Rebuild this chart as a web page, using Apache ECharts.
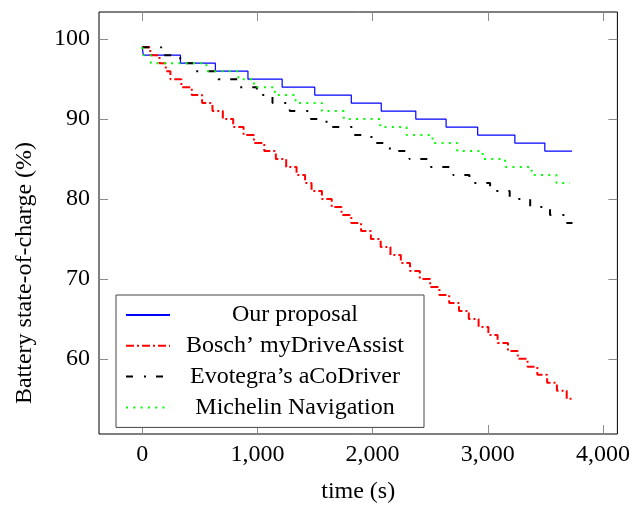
<!DOCTYPE html>
<html><head><meta charset="utf-8">
<script src="https://cdn.jsdelivr.net/npm/echarts@6/dist/echarts.min.js"></script>
<style>html,body{margin:0;padding:0;background:#fff}#c{width:633px;height:509px}</style>
</head><body><div id="c"></div>
<script>
const seriesNames = ['Our proposal', 'Bosch\u2019 myDriveAssist', 'Evotegra\u2019s aCoDriver', 'Michelin Navigation'];
const xTicks = [0, 1000, 2000, 3000, 4000];
const yTicks = [60, 70, 80, 90, 100];

const proposalTime = [0, 10, 332, 635, 918, 1215, 1498, 1815, 2075, 2375, 2638, 2912, 3235, 3495, 3732];
const proposalSoc  = [99, 98, 97, 96, 95, 94, 93, 92, 91, 90, 89, 88, 87, 86, 86];

const boschTime = [0, 70, 150, 205, 245, 340, 430, 520, 610, 700, 790, 880, 970, 1060, 1160, 1250, 1340, 1414, 1470, 1560,
  1645, 1730, 1815, 1900, 1985, 2070, 2155, 2245, 2325, 2410, 2500, 2580, 2665, 2750, 2835, 2920, 3005, 3085, 3175, 3260,
  3345, 3430, 3515, 3600, 3685, 3730];
const boschSoc = [99, 98, 97, 96, 95, 94, 93, 92, 91, 90, 89, 88, 87, 86, 85, 84, 83, 82, 81, 80,
  79, 78, 77, 76, 75, 74, 73, 72, 71, 70, 69, 68, 67, 66, 65, 64, 63, 62, 61, 60,
  59, 58, 57, 56, 55, 55];

const evoTime = [0, 165, 330, 460, 660, 840, 995, 1131, 1281, 1450, 1600, 1830, 1990, 2150, 2320, 2500, 2700, 2840, 3020, 3190, 3368, 3540, 3680, 3735];
const evoSoc  = [99, 98, 97, 96, 95, 94, 93, 92, 91, 90, 89, 88, 87, 86, 85, 84, 83, 82, 81, 80, 79, 78, 77, 77];

const michelinTime = [0, 10, 75, 557, 835, 970, 1152, 1331, 1560, 1750, 2066, 2295, 2520, 2735, 2955, 3150, 3380, 3596, 3712];
const michelinSoc  = [99, 98, 97, 96, 95, 94, 93, 92, 91, 90, 89, 88, 87, 86, 85, 84, 83, 82, 82];

const FONT = '"Liberation Serif", "DejaVu Serif", serif';
const FS = 24;
const pair = (ts, vs) => ts.map((t, i) => [t, vs[i]]);
const fmt = v => v.toLocaleString('en-US');

const chart = echarts.init(document.getElementById('c'), null, {renderer: 'canvas'});
const tick = vals => ({customValues: vals, inside: true, length: 9, lineStyle: {color: '#8c8c8c', width: 1}});
const noLine = {show: false, onZero: false};

chart.setOption({
  animation: false,
  backgroundColor: '#fff',
  grid: {left: 99, right: 15, top: 12, bottom: 66, show: true, borderColor: '#000', borderWidth: 1, backgroundColor: 'transparent'},
  xAxis: [
    {type: 'value', min: -375, max: 4125, position: 'bottom',
     axisLine: noLine, splitLine: {show: false},
     axisTick: tick(xTicks),
     axisLabel: {customValues: xTicks, formatter: fmt, color: '#000', fontSize: FS, fontFamily: FONT, margin: 9},
     name: 'time (s)', nameLocation: 'middle', nameGap: 46,
     nameTextStyle: {color: '#000', fontSize: FS, fontFamily: FONT}},
    {type: 'value', min: -375, max: 4125, position: 'top',
     axisLine: noLine, splitLine: {show: false},
     axisTick: tick(xTicks),
     axisLabel: {show: false}}
  ],
  yAxis: [
    {type: 'value', min: 50.6, max: 103.4, position: 'left',
     axisLine: noLine, splitLine: {show: false},
     axisTick: tick(yTicks),
     axisLabel: {customValues: yTicks, color: '#000', fontSize: FS, fontFamily: FONT, margin: 9},
     name: 'Battery state-of-charge (%)', nameLocation: 'middle', nameGap: 62, nameRotate: 90,
     nameTextStyle: {color: '#000', fontSize: FS, fontFamily: FONT, padding: [0, 100, 0, 0]}},
    {type: 'value', min: 50.6, max: 103.4, position: 'right',
     axisLine: noLine, splitLine: {show: false},
     axisTick: tick(yTicks),
     axisLabel: {show: false}}
  ],
  legend: {
    orient: 'vertical', left: 116, top: 295,
    padding: [8, 9, 8, 9], itemGap: 6.8, itemWidth: 44, itemHeight: 14,
    backgroundColor: '#fff', borderColor: '#444', borderWidth: 1, borderRadius: 0,
    itemStyle: {opacity: 0},
    data: seriesNames,
    formatter: name => '{a|' + name + '}',
    textStyle: {color: '#000', fontFamily: FONT, fontSize: FS,
      rich: {a: {width: 240, align: 'center', fontSize: FS, lineHeight: 24, fontFamily: FONT, color: '#000'}}}
  },
  series: [
    {type: 'line', name: seriesNames[0], data: pair(proposalTime, proposalSoc), step: 'end', symbol: 'none',
     lineStyle: {color: '#0000ff', width: 1.2, type: 'solid'}, itemStyle: {color: '#0000ff'}},
    {type: 'line', name: seriesNames[1], data: pair(boschTime, boschSoc), step: 'end', symbol: 'none',
     lineStyle: {color: '#ff0000', width: 2, type: [8, 3, 2, 3]}, itemStyle: {color: '#ff0000'}},
    {type: 'line', name: seriesNames[2], data: pair(evoTime, evoSoc), step: 'end', symbol: 'none',
     lineStyle: {color: '#000000', width: 2, type: [7, 11, 2, 10]}, itemStyle: {color: '#000000'}},
    {type: 'line', name: seriesNames[3], data: pair(michelinTime, michelinSoc), step: 'end', symbol: 'none',
     lineStyle: {color: '#00ff00', width: 2, type: [2, 5.3]}, itemStyle: {color: '#00ff00'}}
  ]
});
</script>
</body></html>
